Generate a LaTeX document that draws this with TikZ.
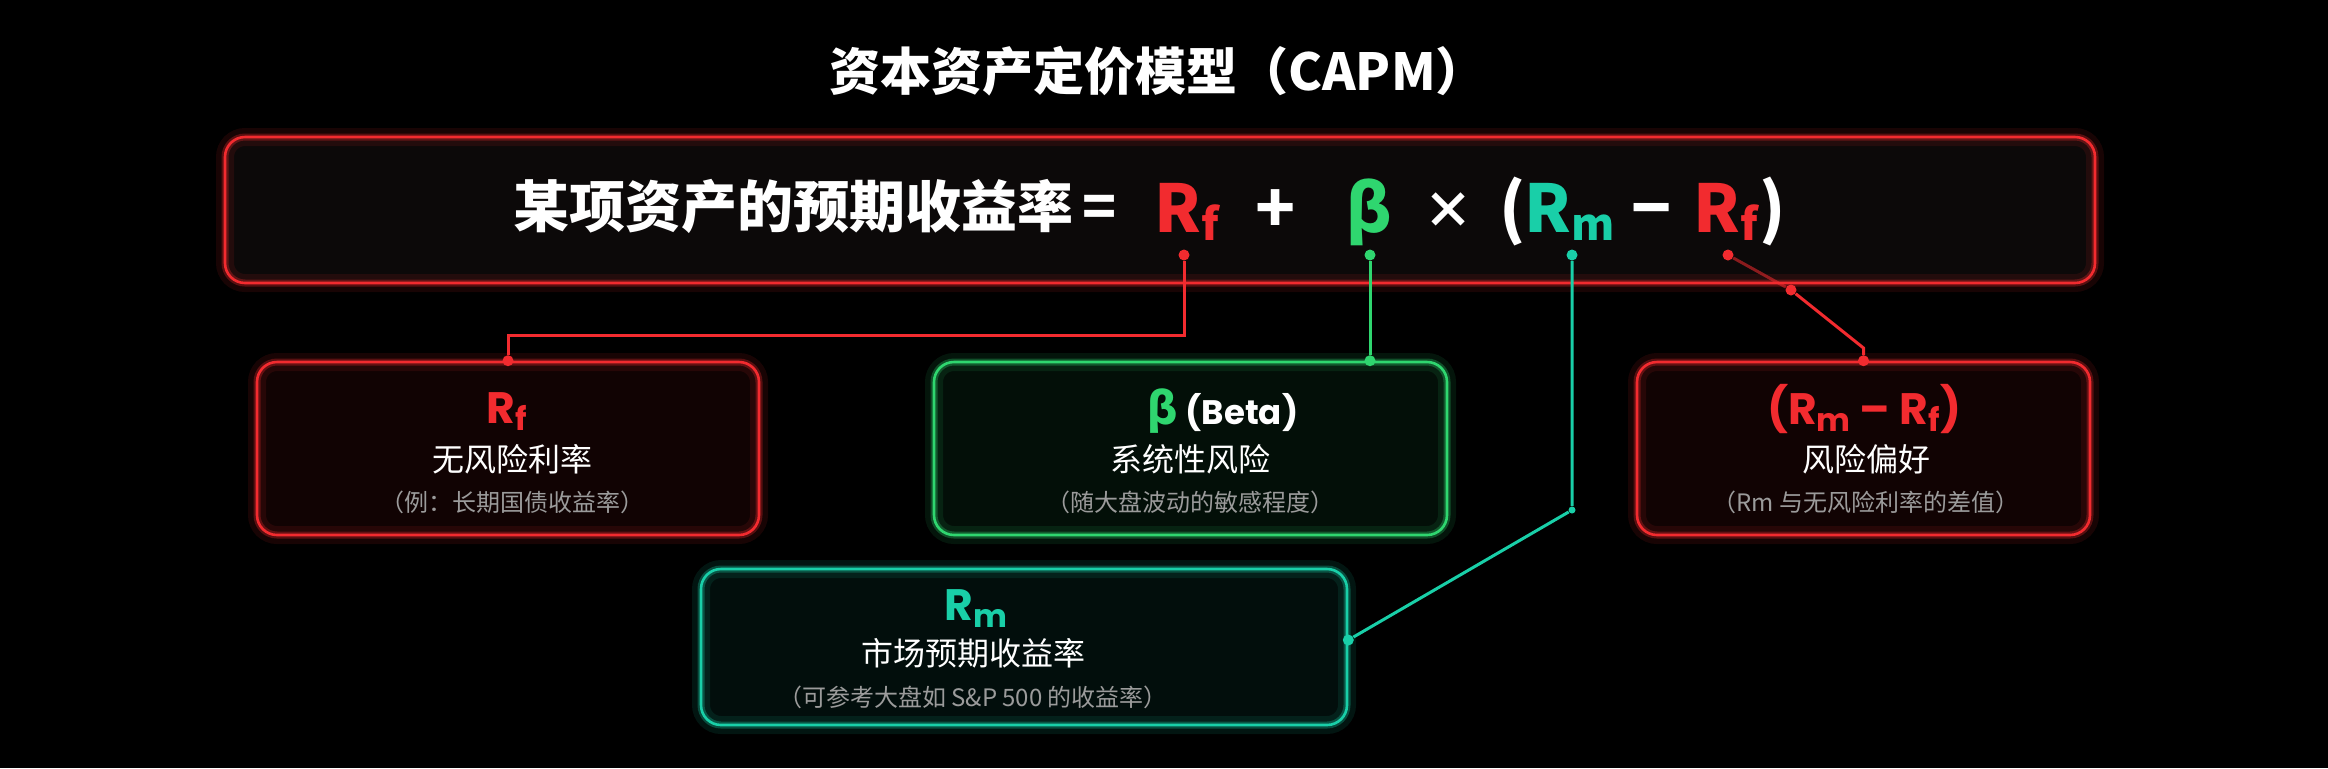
\documentclass[tikz,border=0pt]{standalone}
\usepackage{fontspec}
\setmainfont{Noto Sans CJK SC}
\newfontfamily\cjk{Noto Sans CJK SC}
\newfontfamily\pop{Poppins}
\usetikzlibrary{calc}

\definecolor{capRed}{HTML}{F22B2F}
\definecolor{capGreen}{HTML}{2FD66F}
\definecolor{capTeal}{HTML}{19CFA8}
\definecolor{capGray}{HTML}{9B9B9B}
\definecolor{capDark}{HTML}{0C0909}

% lowered subscript: shift, size, text
\newcommand{\lowsub}[3]{\raisebox{-#1}{\fontsize{#2}{#2}\selectfont #3}}

\begin{document}
\begin{tikzpicture}[x=0.5pt, y=-0.5pt,
    panel/.style={draw=#1, line width=1.3pt, rounded corners=10pt, fill=#1!7!black,
        postaction={draw=#1, line width=9pt, draw opacity=.10},
        postaction={draw=#1, line width=3.5pt, draw opacity=.30}},
    link/.style={draw=#1, line width=1.5pt},
    joint/.style={fill=#1, circle, inner sep=0pt, minimum size=5.5pt},
    head/.style={text=#1, font=\pop\bfseries\fontsize{22pt}{22pt}\selectfont, anchor=base, inner sep=0pt},
    body/.style={text=white, font=\fontsize{16pt}{16pt}\selectfont, inner sep=0pt},
    note/.style={text=capGray, font=\fontsize{12pt}{12pt}\selectfont, inner sep=0pt},
    sym/.style={text=#1, font=\bfseries\fontsize{33pt}{33pt}\selectfont, anchor=base, inner sep=0pt},
    sym/.default=white]

    % Background
    \fill[black] (0,0) rectangle (2328,768);
    \useasboundingbox (0,0) rectangle (2328,768);

    % Title
    \node[text=white, font=\bfseries\fontsize{25.5pt}{25.5pt}\selectfont] (title) at (1158,71) {资本资产定价模型（CAPM）};

    % Formula box
    \node[panel=capRed, fill=capDark, minimum width=935pt, minimum height=73pt] (formula) at (1160,210) {};
    \node[text=white, font=\bfseries\fontsize{28pt}{28pt}\selectfont, inner sep=0pt] (fText) at (815,206) {某项资产的预期收益率\,=};
    \node[sym=capRed] (fRf) at (1187,232) {R\lowsub{4pt}{22pt}{f}};
    \node[sym] (fPlus) at (1276,232) {+};
    \node[sym=capGreen] (fBeta) at (1369,232) {β};
    \node[sym, font=\bfseries\fontsize{25pt}{25pt}\selectfont] (fTimes) at (1448,228) {×};
    \node[sym] (fLp) at (1513,232) {(};
    \node[sym=capTeal] (fRm) at (1570,232) {R\lowsub{4pt}{22pt}{m}};
    \node[sym] (fMinus) at (1652,232) {−};
    \node[sym=capRed] (fRf2) at (1726,232) {R\lowsub{4pt}{22pt}{f}};
    \node[sym] (fRp) at (1773,232) {)};

    % Boxes
    \node[panel=capRed, minimum width=251pt, minimum height=86.5pt] (boxRf) at (508,448.5) {};
    \node[panel=capGreen, minimum width=256.5pt, minimum height=86.5pt] (boxBeta) at (1190.5,448.5) {};
    \node[panel=capRed, minimum width=226.5pt, minimum height=86.5pt] (boxPr) at (1863.5,448.5) {};
    \node[panel=capTeal, minimum width=323pt, minimum height=78pt] (boxRm) at (1024,647) {};

    % Box texts
    \node[head=capRed] (hRf) at (507,423) {R\lowsub{3.5pt}{16pt}{f}};
    \node[body] (tRf) at (512,459) {无风险利率};
    \node[note] (nRf) at (512,502) {（例：长期国债收益率）};

    \node[head=capGreen] (hBeta) at (1223,424) {{\cjk\bfseries β}\,{\color{white}\fontsize{17pt}{17pt}\selectfont (Beta)}};
    \node[body] (tBeta) at (1190,459) {系统性风险};
    \node[note] (nBeta) at (1190,502) {（随大盘波动的敏感程度）};

    \node[head=capRed] (hPr) at (1864,424) {(R\lowsub{3.5pt}{16pt}{m} – R\lowsub{3.5pt}{16pt}{f})};
    \node[body] (tPr) at (1866,459) {风险偏好};
    \node[note] (nPr) at (1866,502) {（Rm 与无风险利率的差值）};

    \node[head=capTeal] (hRm) at (976,620) {R\lowsub{3.5pt}{16pt}{m}};
    \node[body] (tRm) at (973,653) {市场预期收益率};
    \node[note] (nRm) at (973,697) {（可参考大盘如 S\&P 500 的收益率）};

    % Joints
    \node[joint=capRed] (jRf1) at (1184,255) {};
    \node[joint=capRed] (jRf2) at (boxRf.north) {};
    \node[joint=capGreen] (jB1) at (1370,255) {};
    \node[joint=capGreen] (jB2) at (jB1 |- boxBeta.north) {};
    \node[joint=capTeal] (jM1) at (1572,255) {};
    \node[joint=capTeal, minimum size=3.5pt] (jM2) at (1572,510) {};
    \node[joint=capTeal] (jM3) at ([yshift=3.5pt]boxRm.east) {};
    \node[joint=capRed] (jP1) at (1728,255) {};
    \node[joint=capRed] (jP2) at (1791,290) {};
    \node[joint=capRed] (jP3) at (boxPr.north) {};
    \coordinate (kRf) at (boxRf.north |- 0,335);
    \coordinate (kP) at (boxPr.north |- 0,348);

    % Connectors
    \draw[link=capRed] (jRf1) |- (kRf) -- (jRf2);
    \draw[link=capGreen] (jB1) -- (jB2);
    \draw[link=capTeal] (jM1) -- (jM2) -- (jM3);
    \draw[link=capRed, opacity=.55] (jP1) -- (jP2);
    \draw[link=capRed] (jP2) -- (kP) -- (jP3);
\end{tikzpicture}
\end{document}
